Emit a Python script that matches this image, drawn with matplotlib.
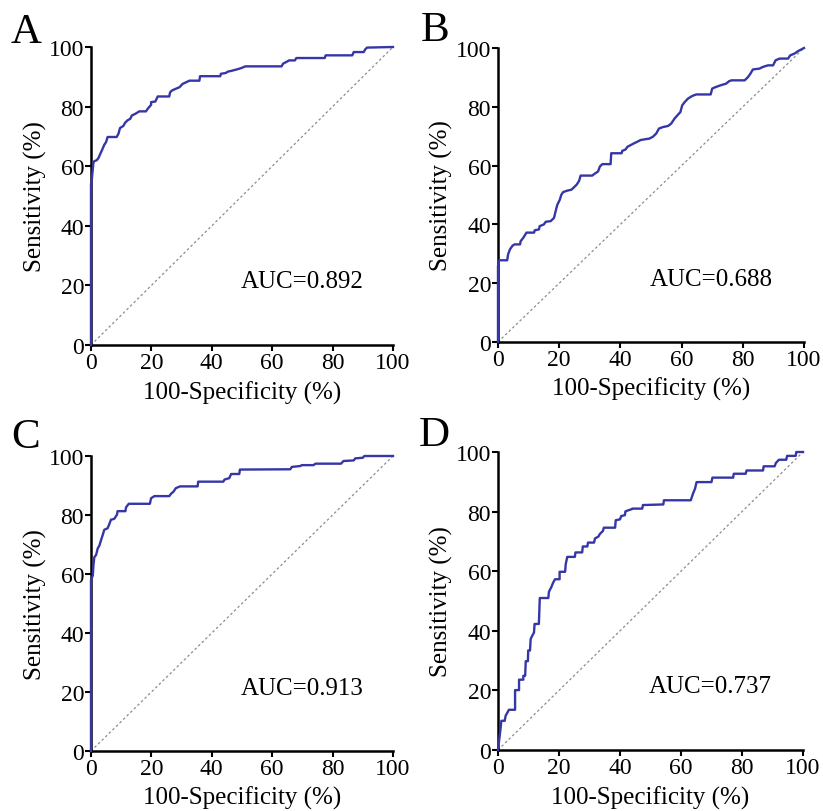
import matplotlib
matplotlib.use('Agg')
import matplotlib.pyplot as plt

plt.rcParams['font.family'] = ['Liberation Serif', 'DejaVu Serif']

# ROC curve vertices (100-specificity %, sensitivity %)
a_fpr = [0, 0, 0.3, 0.8, 1.1, 1.9, 2.5, 3.1, 3.6, 4.4, 5.0, 5.5, 8.5, 9.1, 9.6, 10.7,
         11.3, 12.1, 13.0, 13.5, 14.7, 16.0, 18.2, 18.8, 19.9, 19.9, 21.3, 22.1, 25.9,
         26.2, 26.8, 28.1, 29.3, 30.3, 32.6, 35.9, 36.1, 42.8, 43.0, 44.7, 45.2, 46.9,
         48.0, 49.7, 51.1, 63.1, 63.6, 64.7, 65.6, 67.5, 68.0, 77.4, 77.7, 86.5, 87.0,
         90.3, 90.8, 91.4, 100]
a_tpr = [0, 54, 55.9, 61.2, 61.7, 62.0, 62.8, 64.2, 65.3, 67.2, 68.1, 69.8, 69.8, 70.9,
         72.8, 73.5, 74.6, 75.4, 75.9, 77.0, 77.6, 78.4, 78.4, 79.3, 80.6, 81.5, 81.7,
         83.4, 83.4, 84.8, 85.4, 86.0, 86.5, 87.6, 88.7, 88.7, 90.2, 90.2, 91.0, 91.3,
         91.7, 92.1, 92.4, 92.9, 93.5, 93.5, 94.4, 95.0, 95.5, 95.5, 96.3, 96.3, 97.2,
         97.2, 98.3, 98.3, 99.2, 99.8, 100]

b_fpr = [0, 0, 0.4, 3.0, 3.3, 3.9, 4.7, 5.4, 7.2, 7.4, 8.3, 9.3, 11.8, 12.0, 13.4, 13.6,
         15.0, 15.6, 17.2, 17.8, 18.3, 19.1, 19.4, 20.2, 20.7, 21.3, 22.7, 24.0, 24.8,
         25.7, 26.5, 27.0, 30.8, 31.4, 32.7, 33.3, 34.1, 36.8, 37.0, 40.4, 40.6, 41.7,
         42.3, 43.4, 44.5, 45.5, 46.6, 48.3, 49.5, 50.6, 51.7, 52.6, 53.9, 55.6, 56.6,
         57.7, 58.8, 59.6, 60.2, 61.0, 62.1, 63.5, 64.8, 69.5, 70.0, 71.1, 72.7, 74.6,
         75.5, 76.3, 80.6, 81.7, 82.5, 83.3, 85.5, 86.4, 88.2, 89.9, 90.7, 92.0, 94.8,
         95.5, 96.9, 98.0, 99.1, 100]
b_tpr = [0, 25.9, 27.8, 27.8, 29.8, 31.5, 32.7, 33.2, 33.2, 34.3, 35.5, 37.2, 37.2, 38.0,
         38.3, 39.4, 40.0, 40.9, 41.1, 41.7, 42.2, 45.6, 46.7, 48.4, 50.1, 51.0, 51.5,
         51.8, 52.6, 53.5, 54.8, 56.6, 56.6, 57.1, 58.0, 59.7, 60.5, 60.5, 64.2, 64.2,
         65.0, 65.5, 66.4, 67.0, 67.6, 68.1, 68.7, 69.0, 69.2, 69.8, 70.9, 72.6, 73.1,
         73.5, 74.3, 76.0, 77.3, 78.2, 80.5, 81.6, 82.8, 83.7, 84.2, 84.2, 86.2, 86.7,
         87.3, 87.9, 88.7, 89.0, 89.0, 90.1, 91.3, 92.7, 93.0, 93.5, 94.1, 94.1, 95.8,
         96.4, 96.4, 97.5, 98.1, 98.9, 99.5, 100]

c_fpr = [0, 0, 0.6, 0.8, 1.1, 1.7, 2.2, 2.8, 3.3, 3.9, 4.4, 5.5, 6.1, 6.6, 7.7, 8.6, 8.8,
         11.4, 11.6, 12.5, 19.5, 19.9, 21.0, 25.9, 26.5, 27.3, 28.1, 29.5, 35.3, 35.5,
         43.8, 44.2, 45.8, 46.4, 49.1, 49.3, 66.0, 66.5, 69.3, 69.8, 73.7, 74.3, 82.8,
         83.6, 87.0, 87.5, 90.0, 90.5, 100]
c_tpr = [0, 57.9, 59.5, 62.9, 65.7, 66.5, 68.6, 69.7, 71.4, 73.3, 75.0, 75.5, 77.0, 78.4,
         78.7, 80.1, 81.3, 81.3, 82.6, 83.8, 83.8, 85.7, 86.4, 86.4, 87.2, 87.9, 89.1,
         89.7, 89.7, 91.3, 91.3, 92.0, 92.5, 93.9, 93.9, 95.4, 95.5, 96.3, 96.6, 96.9,
         96.9, 97.4, 97.4, 98.3, 98.5, 99.2, 99.4, 100, 100]

d_fpr = [0, 0.7, 1.1, 2.2, 2.5, 3.1, 3.6, 5.6, 5.6, 6.9, 6.9, 8.3, 8.3, 8.9, 9.1, 9.8,
         9.9, 10.5, 10.7, 11.2, 11.8, 12.0, 13.4, 13.7, 16.5, 16.7, 17.5, 18.1, 18.7,
         20.2, 20.2, 22.0, 22.2, 22.7, 25.2, 25.4, 27.6, 27.8, 29.3, 29.5, 31.5, 31.8,
         32.9, 33.4, 34.4, 34.7, 38.4, 38.6, 40.0, 40.4, 41.6, 41.8, 43.8, 44.0, 47.3,
         47.5, 54.2, 54.4, 63.2, 64.0, 64.6, 65.1, 70.0, 70.3, 77.1, 77.3, 81.2, 81.5,
         86.9, 87.1, 90.7, 91.1, 92.1, 94.5, 94.8, 97.6, 97.8, 100]
d_tpr = [0, 6.0, 9.8, 9.8, 11.5, 12.6, 13.5, 13.5, 20.1, 20.1, 23.6, 23.6, 24.9, 24.9,
         29.8, 29.8, 33.4, 33.4, 37.2, 38.3, 39.4, 42.3, 42.3, 51.0, 51.0, 53.1, 54.7,
         56.2, 57.3, 57.3, 59.8, 59.8, 62.3, 64.8, 64.8, 66.3, 66.3, 68.3, 68.3, 69.6,
         69.6, 71.0, 71.6, 72.5, 73.5, 74.6, 74.6, 77.1, 77.4, 78.5, 78.8, 80.1, 80.8,
         81.0, 81.0, 82.2, 82.4, 83.8, 83.8, 86.2, 87.7, 89.9, 89.9, 91.4, 91.4, 92.7,
         92.7, 93.8, 93.8, 95.2, 95.2, 96.3, 97.4, 97.4, 98.7, 98.7, 100, 100]

panel_letters = ['A', 'B', 'C', 'D']
auc_labels = ['AUC=0.892', 'AUC=0.688', 'AUC=0.913', 'AUC=0.737']
ticks = [0, 20, 40, 60, 80, 100]

CURVE_COLOR = '#3636a6'
W, H = 823, 812

# axes boxes in pixels: left, top, right, bottom
boxes = [(91, 48, 393, 346), (498, 49, 804, 343),
         (91, 457, 393, 752), (498, 453, 803, 751)]
letter_pos = [(11, 43), (421, 41), (11, 448), (419, 446)]

curves = [(a_fpr, a_tpr), (b_fpr, b_tpr), (c_fpr, c_tpr), (d_fpr, d_tpr)]

fig = plt.figure(figsize=(W / 100, H / 100), dpi=100)

for i, (fpr, tpr) in enumerate(curves):
    l, t, r, b = boxes[i]
    ax = fig.add_axes([l / W, (H - b) / H, (r - l) / W, (b - t) / H])

    # chance line + ROC curve
    ax.plot([0, 100], [0, 100], color='#8c8c8c', lw=0.9, ls=(0, (2, 2)))
    ax.plot(fpr, tpr, color=CURVE_COLOR, lw=1.7, zorder=3, clip_on=False)

    ax.set_xlim(0, 100)
    ax.set_ylim(0, 100)
    ax.set_xticks(ticks)
    ax.set_yticks(ticks)
    for side in ['top', 'right']:
        ax.spines[side].set_visible(False)
    for side in ['left', 'bottom']:
        ax.spines[side].set_linewidth(1.8)
    ax.tick_params(direction='out', length=4, width=1.5, labelsize=17, pad=1)

    ax.set_xlabel('100-Specificity (%)', fontsize=18)
    ax.set_ylabel('Sensitivity (%)', fontsize=18)
    ax.xaxis.set_label_coords(0.5, -0.158)
    ax.yaxis.set_label_coords(-0.185, 0.5)
    ax.xaxis.label.set_va('center')
    ax.yaxis.label.set_va('center')

    ax.text(49.5, 21.5, auc_labels[i], fontsize=18, va='center', ha='left')

    lx, ly = letter_pos[i]
    fig.text(lx / W, (H - ly) / H, panel_letters[i], fontsize=31,
             ha='left', va='baseline')

fig.savefig('out.png', dpi=100)
